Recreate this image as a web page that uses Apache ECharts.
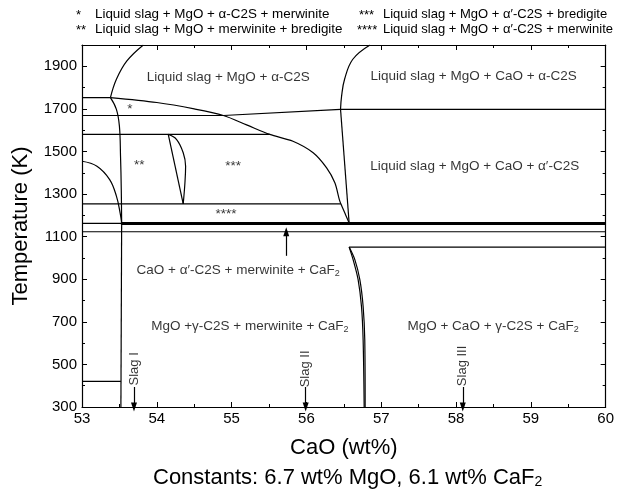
<!DOCTYPE html>
<html>
<head>
<meta charset="utf-8">
<script src="https://cdn.jsdelivr.net/npm/echarts@6/dist/echarts.min.js"></script>
<style>
  html, body { margin: 0; padding: 0; background: #fff; }
  #chart { width: 617px; height: 498px; }
</style>
</head>
<body>
<div id="chart"></div>
<script>
// phase boundaries, [CaO wt%, T (K)]
const liquidusLeft = [[53.38, 1753], [53.46, 1839], [53.60, 1925], [53.82, 2000]];
const liquidusRight = [[56.456, 1698], [56.47, 1760], [56.51, 1839], [56.62, 1933], [56.85, 2000]];
const boundaryNear535 = [[53.38, 1753], [53.46, 1698], [53.50, 1619], [53.515, 1478], [53.525, 1321], [53.53, 1164]];
const leftCurve = [[53.0, 1454], [53.2, 1431], [53.37, 1368], [53.46, 1290], [53.51, 1211], [53.53, 1164]];
const alphaCurve = [[53.38, 1753], [54.0, 1730], [54.5, 1700], [54.89, 1669], [55.2, 1625], [55.51, 1580],
  [55.82, 1548], [56.09, 1494], [56.27, 1423], [56.38, 1353], [56.44, 1274], [56.46, 1254]];
const line1700 = [[54.89, 1669], [56.456, 1698], [60, 1698]];
const h1753 = [[53, 1753], [53.38, 1753]];
const h1669 = [[53, 1669], [54.89, 1669]];
const h1580 = [[53, 1580], [55.51, 1580]];
const h1254 = [[53, 1254], [56.46, 1254]];
const lensLeft = [[54.153, 1580], [54.353, 1254]];
const lensRight = [[54.153, 1580], [54.265, 1556], [54.353, 1494], [54.385, 1431], [54.376, 1353], [54.353, 1254]];
const rightBoundary = [[56.456, 1698], [56.571, 1164]];
const rightLink = [[56.46, 1254], [56.571, 1164]];
const h1162 = [[53, 1162], [60, 1162]];
const h1162Thick = [[53.52, 1162], [60, 1162]];
const h1123 = [[53, 1123], [60, 1123]];
const vert535 = [[53.53, 1164], [53.52, 300]];
const h420 = [[53, 420], [53.52, 420]];
const h1051 = [[56.571, 1051], [60, 1051]];
const gammaLeft = [[56.571, 1051], [56.624, 992], [56.691, 898], [56.736, 772], [56.758, 615], [56.772, 300]];
const gammaRight = [[56.571, 1051], [56.647, 992], [56.714, 898], [56.758, 772], [56.78, 615], [56.785, 300]];

// arrows
const arrow1125 = [[55.73, 1010], [55.73, 1123]];
const slagX = [53.695, 55.99, 58.09];
const slagNames = ['Slag I', 'Slag II', 'Slag III'];
const slagTextY = [479, 479, 493];

// region labels [x, T, text]
const regionLabels = [
  [54.955, 1847, 'Liquid slag + MgO + α-C2S'],
  [58.236, 1852, 'Liquid slag + MgO + CaO + α-C2S'],
  [58.25, 1431, 'Liquid slag + MgO + CaO + α′-C2S'],
  [53.641, 1700, '*'],
  [53.766, 1434, '**'],
  [55.021, 1431, '***'],
  [54.924, 1203, '****'],
  [55.088, 941, 'CaO + α′-C2S + merwinite + CaF{s|2}'],
  [55.244, 678, 'MgO +γ-C2S + merwinite + CaF{s|2}'],
  [58.495, 681, 'MgO + CaO + γ-C2S + CaF{s|2}']
];

const xTicks = [53, 54, 55, 56, 57, 58, 59, 60];
const yTicks = [300, 500, 700, 900, 1100, 1300, 1500, 1700, 1900];

const FONT = 'Liberation Sans, Arial, sans-serif';

function boundary(data, width, smooth) {
  return {
    type: 'line', data: data, symbol: 'none', silent: true,
    smooth: smooth || false,
    lineStyle: {color: '#000', width: width || 1.2},
    z: 3
  };
}

let series = [
  boundary(liquidusLeft, 1.2, 0.4),
  boundary(liquidusRight, 1.2, 0.4),
  boundary(boundaryNear535, 1.2, 0.4),
  boundary(leftCurve, 1.2, 0.4),
  boundary(alphaCurve, 1.2, 0.3),
  boundary(line1700),
  boundary(h1753),
  boundary(h1669),
  boundary(h1580),
  boundary(h1254),
  boundary(lensLeft),
  boundary(lensRight, 1.2, 0.4),
  boundary(rightBoundary),
  boundary(rightLink),
  boundary(h1162),
  boundary(h1162Thick, 3),
  boundary(h1123),
  boundary(vert535),
  boundary(h420),
  boundary(h1051),
  boundary(gammaLeft, 1.2, 0.3),
  boundary(gammaRight, 1.2, 0.3),
  {
    type: 'line', data: [], symbol: 'none', silent: true,
    markLine: {
      silent: true, symbol: ['none', 'triangle'], symbolSize: [6, 9],
      label: {show: false},
      lineStyle: {color: '#000', width: 1.2, type: 'solid'},
      data: [[{coord: arrow1125[0]}, {coord: arrow1125[1]}]].concat(
        slagX.map(x => [{coord: [x, 394]}, {coord: [x, 300]}]))
    }
  },
  {
    type: 'scatter', symbolSize: 0, silent: true, z: 5,
    data: regionLabels,
    label: {
      show: true, position: [0, 0], align: 'center', verticalAlign: 'middle',
      color: '#000', fontFamily: FONT, fontSize: 13.5, lineHeight: 16,
      formatter: p => p.data[2],
      rich: {s: {fontFamily: FONT, fontSize: 9, lineHeight: 6, verticalAlign: 'bottom', color: '#000'}}
    }
  },
  {
    type: 'scatter', symbolSize: 0, silent: true, z: 5,
    data: slagX.map((x, i) => [x, slagTextY[i], slagNames[i]]),
    label: {
      show: true, position: [0, 0], align: 'center', verticalAlign: 'middle', rotate: 90,
      color: '#000', fontFamily: FONT, fontSize: 13,
      formatter: p => p.data[2]
    }
  }
];

const axisCommon = {
  type: 'value',
  axisLine: {onZero: false, lineStyle: {color: '#000', width: 1.2}},
  axisTick: {inside: true, length: 5, lineStyle: {color: '#000'}},
  minorTick: {show: true, splitNumber: 2, length: 3, lineStyle: {color: '#000'}},
  splitLine: {show: false}
};

let option = {
  animation: false,
  backgroundColor: '#fff',
  grid: {left: 82, right: 11, top: 45, bottom: 91},
  xAxis: [
    Object.assign({}, axisCommon, {
      min: 53, max: 60, interval: 1, position: 'bottom',
      name: 'CaO (wt%)', nameLocation: 'middle', nameGap: 30,
      nameTextStyle: {fontFamily: FONT, fontSize: 22, color: '#000'},
      axisLabel: {color: '#000', fontFamily: FONT, fontSize: 15, margin: 4,
        formatter: v => xTicks.includes(v) ? String(v) : ''}
    }),
    Object.assign({}, axisCommon, {
      min: 53, max: 60, interval: 1, position: 'top', axisLabel: {show: false}
    })
  ],
  yAxis: [
    Object.assign({}, axisCommon, {
      min: 300, max: 2000, interval: 200, position: 'left',
      name: 'Temperature (K)', nameLocation: 'middle', nameGap: 50, nameRotate: 90,
      nameTextStyle: {fontFamily: FONT, fontSize: 22, color: '#000'},
      axisLabel: {color: '#000', fontFamily: FONT, fontSize: 15, margin: 5, showMaxLabel: false,
        formatter: v => yTicks.includes(v) ? String(v) : ''}
    }),
    Object.assign({}, axisCommon, {
      min: 300, max: 2000, interval: 200, position: 'right', axisLabel: {show: false}
    })
  ],
  graphic: [
    {type: 'text', left: 76, top: 9, style: {text: '*', font: '13px ' + FONT, fill: '#000'}},
    {type: 'text', left: 95, top: 8, style: {text: 'Liquid slag + MgO + α-C2S + merwinite', font: '13.4px ' + FONT, fill: '#000'}},
    {type: 'text', left: 76, top: 24, style: {text: '**', font: '13px ' + FONT, fill: '#000'}},
    {type: 'text', left: 95, top: 23, style: {text: 'Liquid slag + MgO + merwinite + bredigite', font: '13.4px ' + FONT, fill: '#000'}},
    {type: 'text', left: 359, top: 9, style: {text: '***', font: '13px ' + FONT, fill: '#000'}},
    {type: 'text', left: 383, top: 8, style: {text: 'Liquid slag + MgO + α′-C2S + bredigite', font: '13px ' + FONT, fill: '#000'}},
    {type: 'text', left: 357, top: 24, style: {text: '****', font: '13px ' + FONT, fill: '#000'}},
    {type: 'text', left: 383, top: 23, style: {text: 'Liquid slag + MgO + α′-C2S + merwinite', font: '13px ' + FONT, fill: '#000'}},
    {
      type: 'text', left: 153, top: 467,
      style: {
        text: 'Constants: 6.7 wt% MgO, 6.1 wt% CaF{s|2}',
        font: '22px ' + FONT, fill: '#000',
        rich: {s: {fontFamily: FONT, fontSize: 14, lineHeight: 10, verticalAlign: 'bottom', fill: '#000'}}
      }
    }
  ],
  series: series
};

let myChart = echarts.init(document.getElementById('chart'));
myChart.setOption(option);
</script>
</body>
</html>
